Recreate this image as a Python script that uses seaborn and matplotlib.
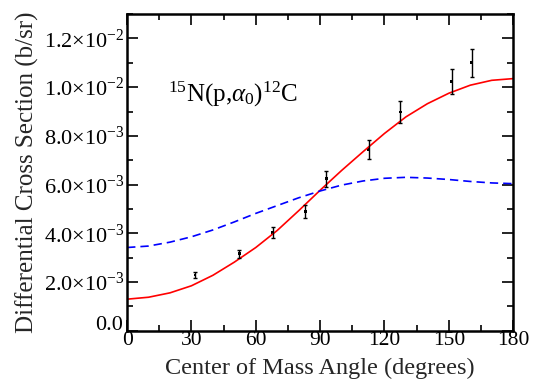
import matplotlib
matplotlib.use("Agg")
import matplotlib.pyplot as plt
from matplotlib.ticker import MultipleLocator, FixedLocator, FixedFormatter
from matplotlib.transforms import ScaledTranslation
import seaborn as sns
import pandas as pd

# measured points (angle in degrees, cross section in b/sr)
angles = [31.7, 52.3, 67.8, 83.0, 92.9, 112.7, 127.3, 151.4, 160.7]
sigma = [2.29e-3, 3.16e-3, 4.05e-3, 4.89e-3, 6.24e-3, 7.44e-3, 8.98e-3, 10.24e-3, 11.0e-3]
sigma_err = [0.14e-3, 0.17e-3, 0.22e-3, 0.26e-3, 0.33e-3, 0.40e-3, 0.46e-3, 0.52e-3, 0.57e-3]

# fitted curves
curve_angles = [0, 10, 20, 30, 40, 50, 60, 70, 80, 90, 100, 110, 120, 130, 140, 150, 160, 170, 180]
fit_red = [1.30e-3, 1.38e-3, 1.56e-3, 1.85e-3, 2.28e-3, 2.82e-3, 3.42e-3, 4.12e-3, 4.93e-3, 5.77e-3,
           6.58e-3, 7.35e-3, 8.10e-3, 8.78e-3, 9.32e-3, 9.75e-3, 10.08e-3, 10.28e-3, 10.35e-3]
fit_blue = [3.42e-3, 3.48e-3, 3.64e-3, 3.86e-3, 4.14e-3, 4.47e-3, 4.82e-3, 5.14e-3, 5.46e-3, 5.74e-3,
            5.98e-3, 6.15e-3, 6.26e-3, 6.30e-3, 6.27e-3, 6.21e-3, 6.13e-3, 6.07e-3, 6.04e-3]

y_ticks = [0.0, 2e-3, 4e-3, 6e-3, 8e-3, 10e-3, 12e-3]
y_labels = ["0.0", r"$2.0{\times}10^{-3}$", r"$4.0{\times}10^{-3}$", r"$6.0{\times}10^{-3}$",
            r"$8.0{\times}10^{-3}$", r"$1.0{\times}10^{-2}$", r"$1.2{\times}10^{-2}$"]

sns.set_style("ticks")
plt.rcParams["font.family"] = ["Liberation Serif", "DejaVu Serif"]
plt.rcParams["mathtext.fontset"] = "custom"
plt.rcParams["mathtext.rm"] = "Liberation Serif"
plt.rcParams["mathtext.it"] = "Liberation Serif:italic"

df_curves = pd.DataFrame({"angle": curve_angles, "red": fit_red, "blue": fit_blue})
df_pts = pd.DataFrame({"angle": angles, "sigma": sigma, "err": sigma_err})

fig = plt.figure(figsize=(5.34, 3.79), dpi=100)
ax = fig.add_axes([0.238, 0.127, 0.723, 0.836])

sns.lineplot(data=df_curves, x="angle", y="red", color="#ff0000", lw=1.2, ax=ax)
sns.lineplot(data=df_curves, x="angle", y="blue", color="#0000ff", lw=1.2, ax=ax,
             linestyle=(0, (5, 3)))
ax.errorbar(df_pts["angle"], df_pts["sigma"], yerr=df_pts["err"], fmt="none",
            ecolor="black", elinewidth=1.0, capsize=1.5, capthick=1.0)
sns.scatterplot(data=df_pts, x="angle", y="sigma", color="black", s=4, marker="s",
                edgecolor="none", ax=ax)

ax.set_xlim(0, 180)
ax.set_ylim(0, 0.013)
ax.xaxis.set_major_locator(MultipleLocator(30))
ax.xaxis.set_minor_locator(MultipleLocator(15))
ax.yaxis.set_major_locator(FixedLocator(y_ticks))
ax.yaxis.set_major_formatter(FixedFormatter(y_labels))
ax.yaxis.set_minor_locator(MultipleLocator(1e-3))
ax.tick_params(which="both", direction="in", top=True, right=True, colors="black",
               labelsize=16, width=1.2)
ax.tick_params(axis="x", labelsize=15.5, pad=0)
ax.tick_params(which="major", length=8)
ax.tick_params(which="minor", length=4)
ax.tick_params(axis="y", pad=2)
for sp in ax.spines.values():
    sp.set_linewidth(1.8)
    sp.set_color("black")

# lift the "0.0" label a little so it sits clear of the x "0"
zero_lbl = ax.get_yticklabels()[0]
zero_lbl.set_transform(zero_lbl.get_transform() + ScaledTranslation(-1 / 72, 6 / 72, fig.dpi_scale_trans))

ax.set_xlabel("Center of Mass Angle (degrees)", fontsize=17.5, va="bottom")
ax.xaxis.set_label_coords(0.5, -0.152)
ax.set_ylabel("Differential Cross Section (b/sr)", fontsize=18, labelpad=3)
ax.text(19, 0.0094, r"$^{15}$N(p,$\alpha_0$)$^{12}$C", fontsize=18, color="black")

fig.savefig("out.png", dpi=100)
